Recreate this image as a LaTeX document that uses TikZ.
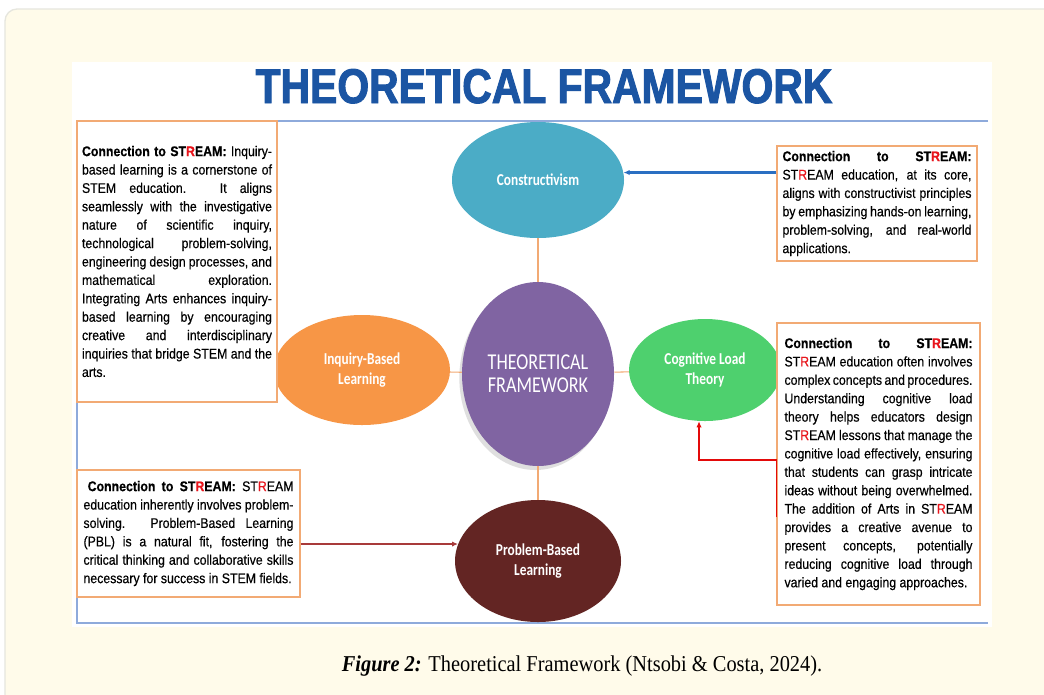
\documentclass[tikz,border=0pt]{standalone}
\usepackage{fontspec}
\usetikzlibrary{shapes.geometric,arrows.meta,shadows}

\setmainfont{Liberation Sans}
\newfontfamily\boxfont{Liberation Sans}[FakeStretch=0.88,FakeBold=0.4]
\newfontfamily\ovalfont{Carlito}[FakeStretch=0.8]
\newfontfamily\titlefont{Liberation Sans}[FakeStretch=0.84,BoldFeatures={FakeBold=2}]
\newfontfamily\capfont{Liberation Serif}[FakeStretch=0.9]

\definecolor{cream}{HTML}{FFFBEA}
\definecolor{edgegray}{HTML}{E6E6DE}
\definecolor{titleblue}{HTML}{1B55A3}
\definecolor{frameblue}{HTML}{8EAADB}
\definecolor{boxorange}{HTML}{F2AA74}
\definecolor{constrteal}{HTML}{4BACC6}
\definecolor{theorypurple}{HTML}{8064A2}
\definecolor{inqorange}{HTML}{F79646}
\definecolor{coggreen}{HTML}{4ED06E}
\definecolor{pblmaroon}{HTML}{632523}
\definecolor{arrowblue}{HTML}{2A6FC2}
\definecolor{arrowmaroon}{HTML}{A83A3A}
\definecolor{arrowred}{HTML}{E30A0A}
\definecolor{streamred}{HTML}{E8141B}

\newcommand{\streamword}{ST\textcolor{streamred}{R}EAM}
\newcommand{\connhead}{\textbf{Connection to \streamword:}}

\tolerance=10000
\hbadness=10000
\hyphenpenalty=10000
\exhyphenpenalty=10000

\tikzset{
  oval/.style={ellipse, inner sep=0pt, text=white, align=center,
    font=\ovalfont\bfseries\fontsize{12.5}{15}\selectfont},
  infobox/.style={draw=boxorange, line width=0.8pt, fill=white, inner sep=0pt,
    align=justify, text=black, font=\boxfont\fontsize{10.5}{13.8}\selectfont},
  link/.style={draw=boxorange, line width=0.8pt},
  tip/.style={-{Latex[length=4.5pt,width=4pt]}},
}

\begin{document}
\begin{tikzpicture}[x=0.75pt,y=-0.75pt]
  \useasboundingbox (0,0) rectangle (1044,694);

  % page and panel
  \fill[white] (0,0) rectangle (1044,694);
  \draw[fill=cream, draw=edgegray, line width=1pt, rounded corners=9pt] (5,9) rectangle (1064,714);
  \fill[white] (72,62) rectangle (992,627);
  \draw[frameblue, line width=1pt] (988,121) -- (77,121) -- (77,623) -- (988,623);

  % title
  \node[font=\titlefont\bfseries\fontsize{36.5}{40}\selectfont, text=titleblue, anchor=base]
    (title) at (544,103) {THEORETICAL FRAMEWORK};

  % ellipses
  \node[oval, fill=constrteal, minimum width=129pt, minimum height=87pt] (constr) at (538,180) {Constructivism};
  \node[oval, fill=theorypurple, minimum width=114pt, minimum height=138pt,
    drop shadow={shadow xshift=-2pt, shadow yshift=-3pt, opacity=0.25},
    font=\ovalfont\fontsize{17}{17.5}\selectfont] (theory) at (538,374) {THEORETICAL\\FRAMEWORK};
  \node[oval, fill=inqorange, minimum width=132pt, minimum height=82.5pt] (inquiry) at (362,370) {Inquiry-Based\\Learning};
  \node[oval, fill=coggreen, minimum width=114pt, minimum height=76.5pt] (cogload) at (705,370) {Cognitive Load\\Theory};
  \node[oval, fill=pblmaroon, minimum width=124.5pt, minimum height=91.5pt] (pbl) at (538,561) {Problem-Based\\Learning};

  % text boxes
  \node[infobox, minimum width=150pt, minimum height=210.75pt, text width=142.5pt] (boxInq) at (177,261.5)
    {\connhead{} Inquiry-\linebreak based learning is a cornerstone of\linebreak
     STEM education. It aligns\linebreak seamlessly with the investigative\linebreak
     nature of scientific inquiry,\linebreak technological problem-solving,\linebreak
     engineering design processes, and\linebreak mathematical exploration.\linebreak
     Integrating Arts enhances inquiry-\linebreak based learning by encouraging\linebreak
     creative and interdisciplinary\linebreak inquiries that bridge STEM and the\linebreak
     arts.};
  \node[infobox, minimum width=150pt, minimum height=86.25pt, text width=141.75pt] (boxCon) at (877,203.5)
    {\connhead\linebreak \streamword{} education, at its core,\linebreak
     aligns with constructivist principles\linebreak by emphasizing hands-on learning,\linebreak
     problem-solving, and real-world\linebreak applications.};
  \node[infobox, minimum width=152.25pt, minimum height=211.5pt, text width=141pt] (boxCog) at (878.5,464)
    {\connhead\linebreak \streamword{} education often involves\linebreak
     complex concepts and procedures.\linebreak Understanding cognitive load\linebreak
     theory helps educators design\linebreak \streamword{} lessons that manage the\linebreak
     cognitive load effectively, ensuring\linebreak that students can grasp intricate\linebreak
     ideas without being overwhelmed.\linebreak The addition of Arts in \streamword\linebreak
     provides a creative avenue to\linebreak present concepts, potentially\linebreak
     reducing cognitive load through\linebreak varied and engaging approaches.};
  \node[infobox, minimum width=167.25pt, minimum height=95.25pt, text width=157.5pt] (boxPbl) at (188.5,533.5)
    {\hspace*{0.3em}\connhead{} \streamword\linebreak education inherently involves problem-\linebreak
     solving. Problem-Based Learning\linebreak (PBL) is a natural fit, fostering the\linebreak
     critical thinking and collaborative skills\linebreak necessary for success in STEM fields.};

  % links to the centre
  \draw[link] (constr) -- (theory);
  \draw[link] (theory) -- (pbl);
  \draw[link] (inquiry) -- (theory);
  \draw[link] (theory) -- (cogload);

  % arrows from the boxes
  \draw[tip, arrowblue, line width=1.6pt] (boxCon.west |- constr.5) -- (constr.5);
  \draw[tip, arrowmaroon, line width=1.3pt] (boxPbl.east |- pbl.168) -- (pbl.168);
  \coordinate (redstart) at (boxCog.west |- 0,517);
  \draw[tip, arrowred, line width=1.4pt] (redstart) -- ++(0,-57) -| ([xshift=-4.5pt]cogload.south);

  % caption
  \node[font=\capfont\fontsize{17}{20}\selectfont, anchor=base] (caption) at (582,671)
    {\textbf{\textit{Figure 2:}} Theoretical Framework (Ntsobi \& Costa, 2024).};
\end{tikzpicture}
\end{document}
